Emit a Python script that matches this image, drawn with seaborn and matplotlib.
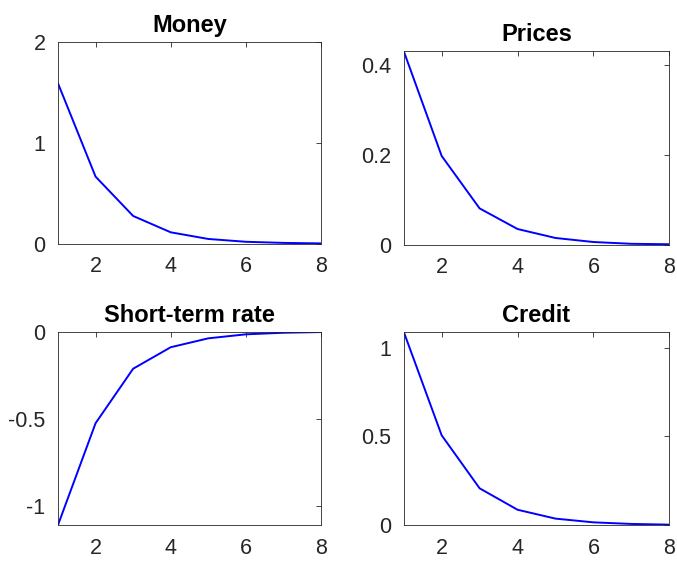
import pandas as pd
import seaborn as sns
import matplotlib.pyplot as plt

# impulse responses, horizons 1..8
horizon = [1, 2, 3, 4, 5, 6, 7, 8]
money = [1.59, 0.665, 0.275, 0.113, 0.047, 0.019, 0.008, 0.003]
prices = [0.432, 0.198, 0.081, 0.035, 0.015, 0.006, 0.002, 0.001]
short_rate = [-1.107, -0.524, -0.212, -0.089, -0.038, -0.015, -0.006, -0.002]
credit = [1.09, 0.506, 0.207, 0.086, 0.036, 0.015, 0.006, 0.002]

titles = ["Money", "Prices", "Short-term rate", "Credit"]
series = [money, prices, short_rate, credit]
ylims = [(0, 2), (0, 0.432), (-1.107, 0), (0, 1.09)]
yticks = [[0, 1, 2], [0, 0.2, 0.4], [-1, -0.5, 0], [0, 0.5, 1]]
yticklabels = [["0", "1", "2"], ["0", "0.2", "0.4"], ["-1", "-0.5", "0"], ["0", "0.5", "1"]]

sns.set_style("white")
plt.rcParams["font.family"] = ["Liberation Sans", "DejaVu Sans"]

W, H = 677, 561
fig = plt.figure(figsize=(W / 100, H / 100), dpi=100)

# axes boxes in pixels: left, top, right, bottom
boxes = [(58, 42, 321, 243.7), (403.7, 51, 669.3, 244.7),
         (58, 331.7, 321, 525), (403.7, 331.7, 669.3, 525)]

grey = "#262626"
for i in range(4):
    l, t, r, b = boxes[i]
    ax = fig.add_axes([l / W, 1 - b / H, (r - l) / W, (b - t) / H])
    df = pd.DataFrame({"h": horizon, "v": series[i]})
    sns.lineplot(x="h", y="v", data=df, ax=ax, color=(0, 0, 1), linewidth=1.4)
    ax.set_xlim(1, 8)
    ax.set_ylim(*ylims[i])
    ax.set_xticks([2, 4, 6, 8])
    ax.set_yticks(yticks[i])
    ax.set_yticklabels(yticklabels[i])
    ax.set_xlabel("")
    ax.set_ylabel("")
    ax.set_title(titles[i], fontsize=17, fontweight="bold", pad=7, color="black")
    ax.tick_params(direction="in", length=3.5, width=0.6, color=grey,
                   labelsize=15.5, labelcolor=grey, top=True, right=True)
    ax.tick_params(axis="x", pad=9)
    ax.tick_params(axis="y", pad=9)
    for s in ax.spines.values():
        s.set_visible(True)
        s.set_color(grey)
        s.set_linewidth(0.6)

plt.savefig("out.png", dpi=100)
